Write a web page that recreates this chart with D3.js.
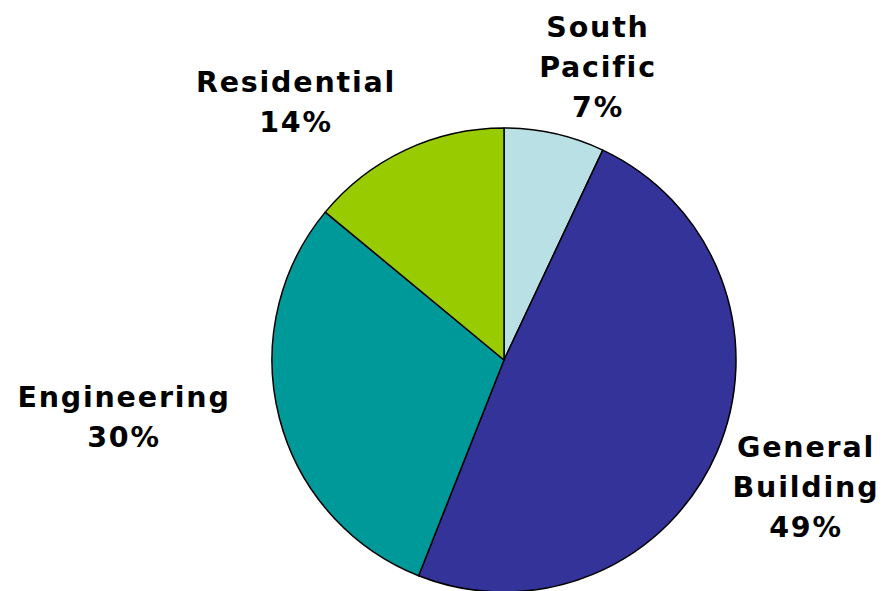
<!DOCTYPE html>
<html>
<head>
<meta charset="utf-8">
<script src="https://cdn.jsdelivr.net/npm/d3@7"></script>
<style>
  html, body { margin: 0; padding: 0; background: #fff; }
  text { font-family: "DejaVu Sans", Verdana, sans-serif; font-weight: bold; fill: #000; }
</style>
</head>
<body>
<svg id="chart" width="883" height="591"></svg>
<script>
// Revenue share by division
const categories = ["South Pacific", "General Building", "Engineering", "Residential"];
const shares = [7, 49, 30, 14];
const labelLines = [["South", "Pacific"], ["General", "Building"], ["Engineering"], ["Residential"]];

const colors = ["#B9E0E4", "#333399", "#009999", "#99CC00"];

// label anchor (first baseline) relative to the pie centre
const labelAnchor = {
  "South Pacific":    [94, -323],
  "General Building": [302, 97],
  "Engineering":      [-380, 47],
  "Residential":      [-208, -268]
};

const width = 883, height = 591;
const cx = 504, cy = 360, radius = 232;
const lineStep = 40;

const svg = d3.select("#chart");
const g = svg.append("g").attr("transform", `translate(${cx},${cy})`);

const data = categories.map((c, i) => ({ name: c, value: shares[i], lines: labelLines[i], color: colors[i] }));

const pie = d3.pie().value(d => d.value).sort(null);
const arc = d3.arc().innerRadius(0).outerRadius(radius);

g.selectAll("path.slice")
  .data(pie(data))
  .join("path")
  .attr("class", "slice")
  .attr("d", arc)
  .attr("fill", d => d.data.color)
  .attr("stroke", "#000")
  .attr("stroke-width", 1.5)
  .attr("stroke-linejoin", "round");

const labels = g.selectAll("text.label")
  .data(pie(data))
  .join("text")
  .attr("class", "label")
  .attr("text-anchor", "middle")
  .attr("font-size", 28.5)
  .attr("letter-spacing", 1.8)
  .attr("transform", d => {
    const [x, y] = labelAnchor[d.data.name];
    return `translate(${x},${y})`;
  });

labels.each(function(d) {
  const t = d3.select(this);
  const rows = [...d.data.lines, d.data.value + "%"];
  rows.forEach((r, i) => {
    t.append("tspan").attr("x", 0).attr("y", i * lineStep).text(r);
  });
});
</script>
</body>
</html>
